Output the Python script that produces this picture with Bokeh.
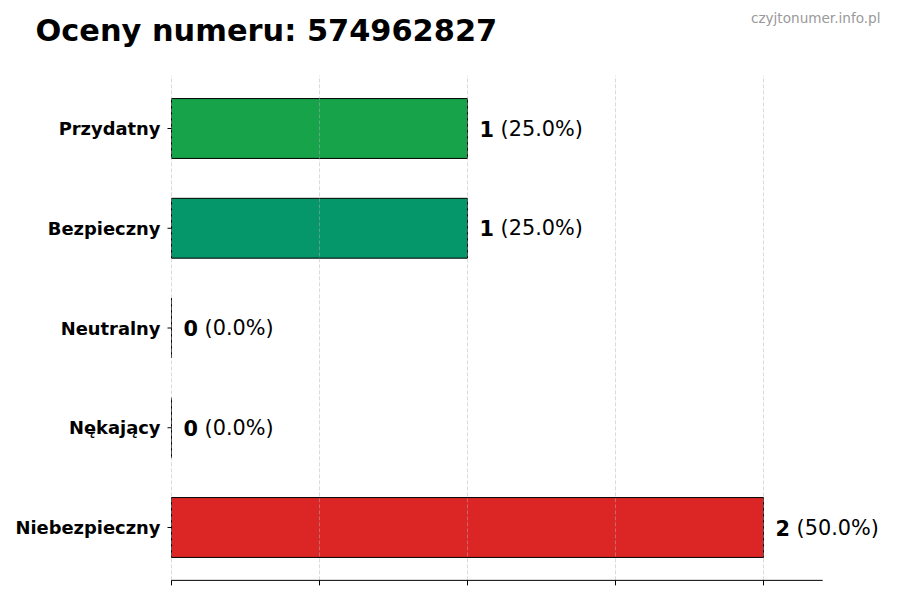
from bokeh.plotting import figure
from bokeh.models import Range1d
from bokeh.core.properties import value
from bokeh.embed import file_html
from bokeh.resources import INLINE

# data, bottom to top
categories = ["Niebezpieczny", "Nękający", "Neutralny", "Bezpieczny", "Przydatny"]
counts = [2, 0, 0, 1, 1]
colors = ["#dc2626", "#f97316", "#9ca3af", "#059669", "#16a34a"]
grid_ticks = [0, 0.5, 1, 1.5, 2]
title = "Oceny numeru: 574962827"
watermark = "czyjtonumer.info.pl"

total = sum(counts)
percents = [f"({c / total * 100:.1f}%)" for c in counts]
count_txt = [str(c) for c in counts]
ypos = list(range(len(categories)))

# axes limits of the drawing area
x_max = 2.2
y_lo, y_hi = -0.53, 4.53

# canvas layout: the frame fills the whole page, axes are drawn by hand
W, H = 900, 600
X0_PX, PX_X = 171, 296.0     # pixel of x=0, pixels per unit
Y0_PX, PX_Y = 527, 99.75     # pixel of y=0, pixels per unit


def px_x(px):
    return (px - X0_PX) / PX_X


def px_y(px):
    return (Y0_PX - px) / PX_Y


FONT = "DejaVu Sans"
VAL_FS = 20.8

p = figure(
    width=W, height=H,
    x_range=Range1d(px_x(0), px_x(W)), y_range=Range1d(px_y(H), px_y(0)),
    x_axis_location=None, y_axis_location=None,
    output_backend="svg", toolbar_location=None,
    min_border=0,
)
p.outline_line_color = None
p.grid.visible = False

p.hbar(y=ypos, left=0, right=counts, height=0.6, fill_color=colors,
       line_color="black", line_width=1)

# vertical grid, dashed, on top of the bars
p.segment(x0=grid_ticks, y0=y_lo, x1=grid_ticks, y1=y_hi,
          line_color="#b0b0b0", line_alpha=0.6, line_width=0.8, line_dash="4 2")

# bottom spine with ticks
p.segment(x0=[0], y0=[y_lo], x1=[x_max], y1=[y_lo], line_color="black", line_width=1)
p.ray(x=grid_ticks, y=y_lo, length=5, length_units="screen", angle=-90, angle_units="deg",
      line_color="black", line_width=1)

# y ticks and category labels
p.ray(x=0, y=ypos, length=4, length_units="screen", angle=180, angle_units="deg",
      line_color="black", line_width=1)
p.text(x=0, y=ypos, text=categories, x_offset=-11, text_align="right",
       text_baseline="middle", text_font=value(FONT), text_font_size="17.9px",
       text_font_style="bold", text_color="black")

# value labels: bold count then percentage
p.text(x=counts, y=ypos, text=count_txt, x_offset=12, text_baseline="middle",
       text_font=value(FONT), text_font_size=f"{VAL_FS}px", text_font_style="bold",
       text_color="black")
p.text(x=counts, y=ypos, text=percents, x_offset=12 + 0.696 * VAL_FS + 0.318 * VAL_FS,
       text_baseline="middle", text_font=value(FONT), text_font_size=f"{VAL_FS}px",
       text_color="black")

# title and watermark
p.text(x=[px_x(35)], y=[px_y(29.5)], text=[title], text_baseline="middle",
       text_font=value(FONT), text_font_size="30.4px", text_font_style="bold",
       text_color="black")
p.text(x=[px_x(880)], y=[px_y(17)], text=[watermark], text_align="right",
       text_baseline="middle", text_font=value(FONT), text_font_size="13.6px",
       text_color="#999999")

open("out.html", "w").write(file_html(p, INLINE))
